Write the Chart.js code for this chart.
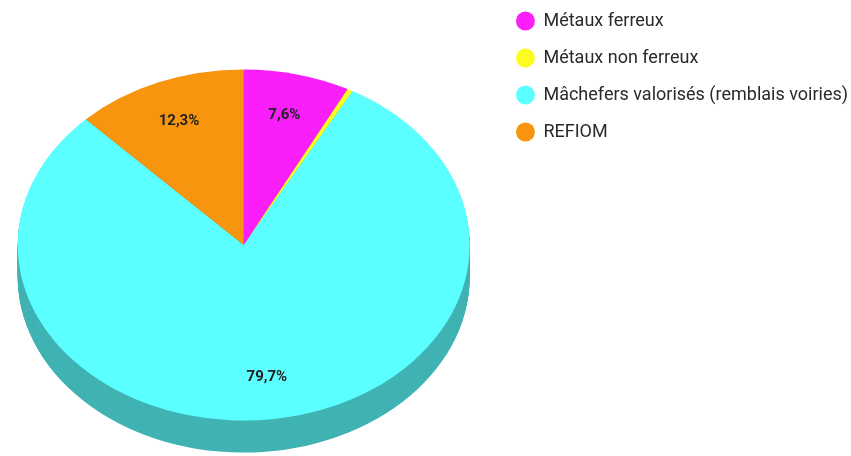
<!DOCTYPE html>
<html>
<head>
<meta charset="utf-8">
<script src="https://cdn.jsdelivr.net/npm/chart.js@4.4.1/dist/chart.umd.min.js"></script>
<style>
  html, body { margin: 0; padding: 0; background: #fff; }
  #wrap { width: 851px; height: 456px; }
</style>
</head>
<body>
<div id="wrap"><canvas id="pie"></canvas></div>
<script>
const categories = ['Métaux ferreux', 'Métaux non ferreux', 'Mâchefers valorisés (remblais voiries)', 'REFIOM'];
const shares = [7.6, 0.4, 79.7, 12.3];
const sliceColors = ['#fa1efa', '#fcfc1e', '#5cffff', '#f7950e'];

const TILT = 0.777;   // vertical squash of the top face
const DEPTH = 32;     // thickness of the side wall
const SHADE = 0.7;    // side wall darkening
const SHIFT_X = -5;   // nudge of the pie inside the chart area
const SHIFT_Y = 17;

function darker(hex, f) {
  const n = parseInt(hex.slice(1), 16);
  const r = Math.round(((n >> 16) & 255) * f);
  const g = Math.round(((n >> 8) & 255) * f);
  const b = Math.round((n & 255) * f);
  return `rgb(${r},${g},${b})`;
}

function tilt(ctx, cy, dy) {
  ctx.translate(SHIFT_X, cy + dy + SHIFT_Y);
  ctx.scale(1, TILT);
  ctx.translate(0, -cy);
}

function pctText(v) {
  const total = shares.reduce((s, x) => s + x, 0);
  return (v / total * 100).toFixed(1).replace('.', ',') + '%';
}

const pie3d = {
  id: 'pie3d',
  beforeDatasetsDraw(chart) {
    const ctx = chart.ctx;
    const arcs = chart.getDatasetMeta(0).data;
    const cy = arcs[0].y;
    // side wall: stacked darker copies below the top face
    for (let dy = DEPTH; dy > 0; dy--) {
      ctx.save();
      tilt(ctx, cy, dy);
      arcs.forEach((a, i) => {
        ctx.beginPath();
        ctx.moveTo(a.x, a.y);
        ctx.arc(a.x, a.y, a.outerRadius, a.startAngle, a.endAngle);
        ctx.closePath();
        ctx.fillStyle = darker(sliceColors[i], SHADE);
        ctx.fill();
      });
      ctx.restore();
    }
    ctx.save();
    tilt(ctx, cy, 0);
  },
  afterDatasetsDraw(chart) {
    const ctx = chart.ctx;
    ctx.restore();
    const arcs = chart.getDatasetMeta(0).data;
    const total = shares.reduce((s, x) => s + x, 0);
    ctx.save();
    ctx.font = 'bold 15px Roboto';
    ctx.fillStyle = '#222';
    ctx.textAlign = 'center';
    ctx.textBaseline = 'middle';
    arcs.forEach((a, i) => {
      if (shares[i] / total < 0.02) return;
      const mid = (a.startAngle + a.endAngle) / 2;
      const r = a.outerRadius * 0.76;
      const x = a.x + r * Math.cos(mid) + SHIFT_X;
      const y = a.y + r * Math.sin(mid) * TILT + SHIFT_Y;
      ctx.fillText(pctText(shares[i]), x, y);
    });
    ctx.restore();
  }
};

new Chart(document.getElementById('pie'), {
  type: 'pie',
  data: {
    labels: categories,
    datasets: [{
      data: shares,
      backgroundColor: sliceColors,
      borderWidth: 0,
      radius: 226,
      clip: false
    }]
  },
  options: {
    responsive: true,
    maintainAspectRatio: false,
    animation: false,
    events: [],
    layout: { padding: { left: -11, right: -7, top: -7, bottom: -39 } },
    plugins: {
      tooltip: { enabled: false },
      legend: {
        position: 'right',
        align: 'start',
        labels: {
          usePointStyle: true,
          pointStyle: 'circle',
          boxHeight: 13.4,
          padding: 19,
          color: '#2a2a2a',
          font: { family: 'Roboto', size: 18 }
        }
      }
    }
  },
  plugins: [pie3d]
});
</script>
</body>
</html>
